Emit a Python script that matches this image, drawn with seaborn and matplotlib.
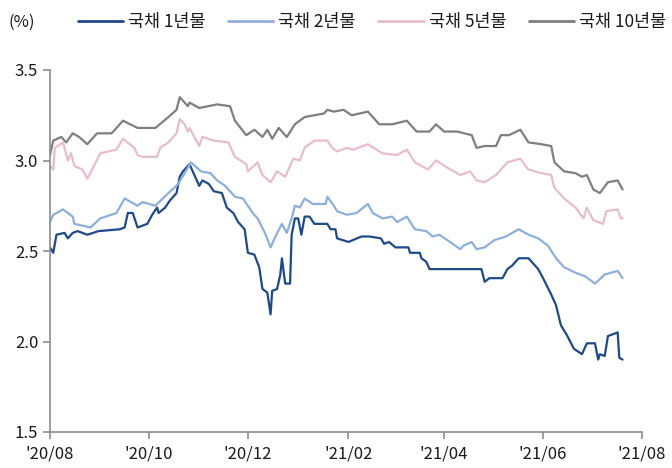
import matplotlib
matplotlib.use("Agg")
import matplotlib.pyplot as plt
import matplotlib.dates as mdates
import seaborn as sns
import pandas as pd

# 국채 금리 (%)
dates_1y = ["2020-08-01", "2020-08-03", "2020-08-05", "2020-08-10", "2020-08-12", "2020-08-15",
            "2020-08-18", "2020-08-24", "2020-08-31", "2020-09-13", "2020-09-16", "2020-09-18",
            "2020-09-21", "2020-09-24", "2020-09-30", "2020-10-03", "2020-10-06", "2020-10-07",
            "2020-10-11", "2020-10-14", "2020-10-18", "2020-10-20", "2020-10-22", "2020-10-25",
            "2020-10-26", "2020-10-29", "2020-11-01", "2020-11-03", "2020-11-07", "2020-11-10",
            "2020-11-15", "2020-11-18", "2020-11-22", "2020-11-25", "2020-11-29", "2020-12-01",
            "2020-12-05", "2020-12-08", "2020-12-10", "2020-12-13", "2020-12-15", "2020-12-16",
            "2020-12-19", "2020-12-21", "2020-12-22", "2020-12-24", "2020-12-27", "2020-12-28",
            "2020-12-30", "2021-01-01", "2021-01-03", "2021-01-05", "2021-01-08", "2021-01-11",
            "2021-01-19", "2021-01-21", "2021-01-24", "2021-01-25", "2021-02-01", "2021-02-09",
            "2021-02-14", "2021-02-21", "2021-02-23", "2021-02-26", "2021-03-02", "2021-03-10",
            "2021-03-11", "2021-03-17", "2021-03-18", "2021-03-21", "2021-03-23", "2021-04-24",
            "2021-04-26", "2021-04-29", "2021-05-07", "2021-05-10", "2021-05-13", "2021-05-17",
            "2021-05-23", "2021-05-26", "2021-05-29", "2021-06-01", "2021-06-06", "2021-06-09",
            "2021-06-12", "2021-06-16", "2021-06-20", "2021-06-25", "2021-06-28", "2021-07-03",
            "2021-07-05", "2021-07-06", "2021-07-09", "2021-07-11", "2021-07-17", "2021-07-18",
            "2021-07-20"]
yield_1y = [2.52, 2.49, 2.59, 2.60, 2.57, 2.60,
            2.61, 2.59, 2.61, 2.62, 2.63, 2.71,
            2.71, 2.63, 2.65, 2.70, 2.74, 2.71,
            2.74, 2.78, 2.82, 2.91, 2.94, 2.97,
            2.98, 2.92, 2.86, 2.89, 2.87, 2.83,
            2.82, 2.74, 2.71, 2.66, 2.62, 2.49,
            2.48, 2.41, 2.29, 2.27, 2.15, 2.28,
            2.29, 2.37, 2.46, 2.32, 2.32, 2.59,
            2.68, 2.68, 2.59, 2.69, 2.69, 2.65,
            2.65, 2.62, 2.62, 2.57, 2.55, 2.58,
            2.58, 2.57, 2.54, 2.55, 2.52, 2.52,
            2.49, 2.49, 2.46, 2.44, 2.40, 2.40,
            2.33, 2.35, 2.35, 2.40, 2.42, 2.46,
            2.46, 2.43, 2.40, 2.35, 2.26, 2.20,
            2.09, 2.03, 1.96, 1.93, 1.99, 1.99,
            1.90, 1.93, 1.92, 2.03, 2.05, 1.91,
            1.90]

dates_2y = ["2020-08-01", "2020-08-03", "2020-08-09", "2020-08-15", "2020-08-16", "2020-08-26",
            "2020-09-01", "2020-09-11", "2020-09-16", "2020-09-24", "2020-09-27", "2020-10-05",
            "2020-10-13", "2020-10-19", "2020-10-25", "2020-10-27", "2020-11-02", "2020-11-08",
            "2020-11-12", "2020-11-17", "2020-11-23", "2020-11-28", "2020-12-04", "2020-12-07",
            "2020-12-12", "2020-12-15", "2020-12-18", "2020-12-22", "2020-12-25", "2020-12-28",
            "2020-12-30", "2021-01-02", "2021-01-05", "2021-01-10", "2021-01-18", "2021-01-19",
            "2021-01-23", "2021-01-25", "2021-01-31", "2021-02-06", "2021-02-13", "2021-02-16",
            "2021-02-22", "2021-02-28", "2021-03-03", "2021-03-09", "2021-03-14", "2021-03-21",
            "2021-03-25", "2021-03-29", "2021-04-03", "2021-04-11", "2021-04-13", "2021-04-18",
            "2021-04-21", "2021-04-26", "2021-05-02", "2021-05-09", "2021-05-17", "2021-05-23",
            "2021-05-29", "2021-06-04", "2021-06-09", "2021-06-14", "2021-06-21", "2021-06-27",
            "2021-07-03", "2021-07-09", "2021-07-17", "2021-07-20"]
yield_2y = [2.66, 2.70, 2.73, 2.69, 2.65, 2.63,
            2.68, 2.71, 2.79, 2.75, 2.77, 2.75,
            2.82, 2.87, 2.96, 2.99, 2.94, 2.93,
            2.89, 2.86, 2.80, 2.79, 2.71, 2.68,
            2.59, 2.52, 2.58, 2.65, 2.60, 2.68,
            2.75, 2.74, 2.79, 2.76, 2.76, 2.80,
            2.75, 2.72, 2.70, 2.71, 2.76, 2.71,
            2.68, 2.69, 2.66, 2.69, 2.62, 2.61,
            2.58, 2.59, 2.56, 2.51, 2.53, 2.55,
            2.51, 2.52, 2.56, 2.58, 2.62, 2.59,
            2.57, 2.53, 2.46, 2.41, 2.38, 2.36,
            2.32, 2.37, 2.39, 2.35]

dates_5y = ["2020-08-01", "2020-08-03", "2020-08-04", "2020-08-09", "2020-08-12", "2020-08-14",
            "2020-08-16", "2020-08-21", "2020-08-24", "2020-08-27", "2020-09-01", "2020-09-11",
            "2020-09-15", "2020-09-22", "2020-09-24", "2020-09-27", "2020-10-06", "2020-10-08",
            "2020-10-13", "2020-10-18", "2020-10-20", "2020-10-23", "2020-10-25", "2020-10-26",
            "2020-11-01", "2020-11-03", "2020-11-10", "2020-11-19", "2020-11-23", "2020-11-30",
            "2020-12-01", "2020-12-07", "2020-12-10", "2020-12-15", "2020-12-19", "2020-12-24",
            "2020-12-29", "2021-01-02", "2021-01-05", "2021-01-11", "2021-01-19", "2021-01-22",
            "2021-01-25", "2021-01-31", "2021-02-04", "2021-02-13", "2021-02-22", "2021-03-03",
            "2021-03-09", "2021-03-14", "2021-03-22", "2021-03-27", "2021-04-03", "2021-04-11",
            "2021-04-17", "2021-04-21", "2021-04-26", "2021-05-03", "2021-05-10", "2021-05-18",
            "2021-05-23", "2021-05-31", "2021-06-06", "2021-06-08", "2021-06-14", "2021-06-21",
            "2021-06-26", "2021-06-28", "2021-07-02", "2021-07-08", "2021-07-10", "2021-07-17",
            "2021-07-19", "2021-07-20"]
yield_5y = [2.97, 2.95, 3.07, 3.10, 3.00, 3.04,
            2.97, 2.95, 2.90, 2.95, 3.04, 3.06,
            3.12, 3.07, 3.03, 3.02, 3.02, 3.07,
            3.10, 3.15, 3.23, 3.20, 3.16, 3.18,
            3.08, 3.13, 3.11, 3.10, 3.02, 2.98,
            2.94, 2.99, 2.92, 2.88, 2.94, 2.91,
            3.01, 3.00, 3.07, 3.11, 3.11, 3.07,
            3.05, 3.07, 3.06, 3.09, 3.04, 3.03,
            3.06, 2.99, 2.95, 3.00, 2.96, 2.92,
            2.94, 2.89, 2.88, 2.92, 2.99, 3.01,
            2.95, 2.93, 2.92, 2.85, 2.79, 2.74,
            2.68, 2.74, 2.67, 2.65, 2.72, 2.73,
            2.68, 2.68]

dates_10y = ["2020-08-01", "2020-08-03", "2020-08-08", "2020-08-11", "2020-08-15", "2020-08-19",
             "2020-08-24", "2020-08-30", "2020-09-08", "2020-09-15", "2020-09-24", "2020-10-05",
             "2020-10-13", "2020-10-18", "2020-10-20", "2020-10-25", "2020-10-26", "2020-11-01",
             "2020-11-12", "2020-11-20", "2020-11-23", "2020-11-30", "2020-12-05", "2020-12-10",
             "2020-12-13", "2020-12-16", "2020-12-20", "2020-12-25", "2020-12-30", "2021-01-05",
             "2021-01-11", "2021-01-17", "2021-01-19", "2021-01-23", "2021-01-29", "2021-02-03",
             "2021-02-13", "2021-02-20", "2021-02-28", "2021-03-09", "2021-03-15", "2021-03-23",
             "2021-03-27", "2021-04-01", "2021-04-09", "2021-04-18", "2021-04-21", "2021-04-26",
             "2021-05-03", "2021-05-06", "2021-05-11", "2021-05-18", "2021-05-23", "2021-05-31",
             "2021-06-06", "2021-06-08", "2021-06-14", "2021-06-21", "2021-06-25", "2021-06-28",
             "2021-07-02", "2021-07-06", "2021-07-11", "2021-07-17", "2021-07-20"]
yield_10y = [3.03, 3.11, 3.13, 3.10, 3.15, 3.13,
             3.09, 3.15, 3.15, 3.22, 3.18, 3.18,
             3.24, 3.28, 3.35, 3.30, 3.32, 3.29,
             3.31, 3.30, 3.22, 3.14, 3.17, 3.13,
             3.17, 3.12, 3.18, 3.13, 3.20, 3.24,
             3.25, 3.26, 3.28, 3.27, 3.28, 3.25,
             3.27, 3.20, 3.20, 3.22, 3.16, 3.16,
             3.20, 3.16, 3.16, 3.14, 3.07, 3.08,
             3.08, 3.14, 3.14, 3.17, 3.10, 3.09,
             3.08, 2.99, 2.94, 2.93, 2.91, 2.92,
             2.84, 2.82, 2.88, 2.89, 2.84]

series_names = ["국채 1년물", "국채 2년물", "국채 5년물", "국채 10년물"]
series_colors = ["#1F4A88", "#8DAFDD", "#E8BDCA", "#7F7F7F"]

frames = []
for name, d, v in zip(series_names,
                      [dates_1y, dates_2y, dates_5y, dates_10y],
                      [yield_1y, yield_2y, yield_5y, yield_10y]):
    frames.append(pd.DataFrame({"date": pd.to_datetime(d), "value": v, "series": name}))
df = pd.concat(frames, ignore_index=True)

sns.set_style("ticks")
plt.rcParams["font.family"] = ["Noto Sans CJK KR", "DejaVu Sans"]

fig = plt.figure(figsize=(6.72, 4.68), dpi=100)
ax = fig.add_axes([50 / 672, 1 - 432 / 468, 592 / 672, 362 / 468])

sns.lineplot(data=df, x="date", y="value", hue="series", hue_order=series_names,
             palette=series_colors, linewidth=1.6, ax=ax, legend=False)

ax.set_xlim(pd.Timestamp("2020-08-01"), pd.Timestamp("2021-08-01"))
ax.set_ylim(1.5, 3.5)
ax.set_yticks([1.5, 2.0, 2.5, 3.0, 3.5])
ax.set_yticklabels(["1.5", "2.0", "2.5", "3.0", "3.5"])
ax.xaxis.set_major_locator(mdates.MonthLocator(bymonth=[2, 4, 6, 8, 10, 12]))
ax.xaxis.set_major_formatter(mdates.DateFormatter("'%y/%m"))
ax.set_xlabel("")
ax.set_ylabel("")

sns.despine(ax=ax)
for sp in ["left", "bottom"]:
    ax.spines[sp].set_color("#8C8C8C")
    ax.spines[sp].set_linewidth(1.2)
ax.tick_params(axis="both", colors="#8C8C8C", labelcolor="#1A1A1A",
               labelsize=12, length=5, width=1.2)
ax.tick_params(axis="x", pad=5)

# legend along the top
handles = [plt.Line2D([], [], color=c, linewidth=2) for c in series_colors]
fig.legend(handles, series_names, loc="center", bbox_to_anchor=(372 / 672, 1 - 22 / 468),
           ncol=4, frameon=False, fontsize=12.5, handlelength=2.6, handletextpad=0.3,
           columnspacing=1.3, labelcolor="#1A1A1A")
fig.text(8 / 672, 1 - 22 / 468, "(%)", fontsize=12, ha="left", va="center", color="#1A1A1A")

fig.savefig("out.png", dpi=100)
